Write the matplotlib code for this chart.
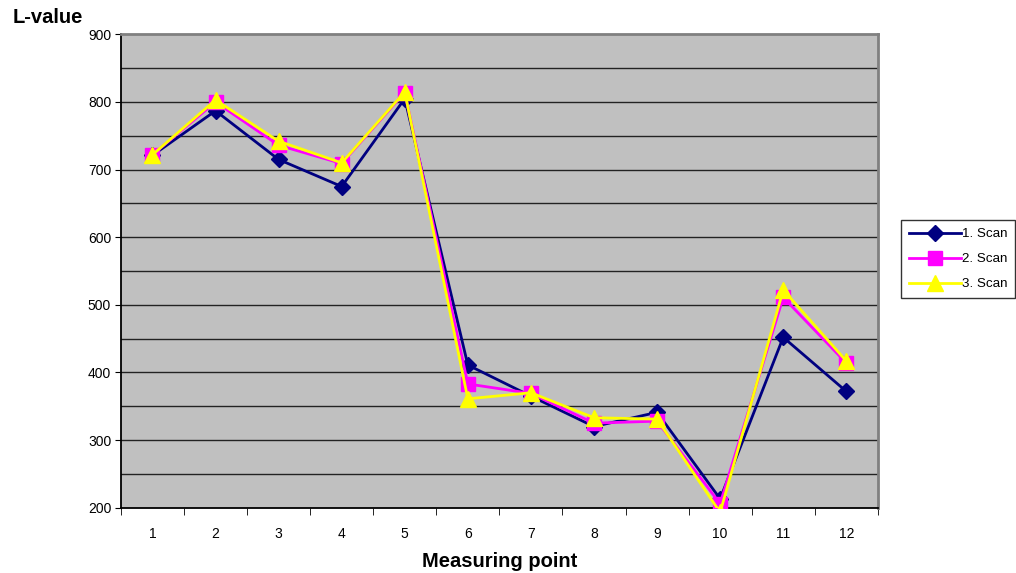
import matplotlib
matplotlib.use("Agg")
import matplotlib.pyplot as plt
from matplotlib.ticker import MultipleLocator

plt.rcParams['font.family'] = ['Liberation Sans', 'DejaVu Sans']

# data
points = list(range(1, 13))
scan1 = [721, 787, 715, 675, 805, 411, 365, 320, 341, 213, 452, 372]
scan2 = [722, 800, 736, 709, 814, 383, 369, 325, 328, 206, 511, 414]
scan3 = [722, 803, 742, 710, 815, 361, 370, 333, 331, 193, 522, 417]
labels = ["1. Scan", "2. Scan", "3. Scan"]

fig = plt.figure(figsize=(10.16, 5.73), dpi=100)
ax = fig.add_axes([0.119, 0.114, 0.745, 0.826])
ax.set_facecolor("#C0C0C0")

# grid every 50
for v in range(250, 900, 50):
    ax.axhline(v, color="#222222", lw=1.0, zorder=1)

ax.plot(points, scan1, color="#000080", lw=2, marker="D", ms=8,
        label=labels[0], zorder=3)
ax.plot(points, scan2, color="#FF00FF", lw=2, marker="s", ms=10,
        label=labels[1], zorder=4)
ax.plot(points, scan3, color="#FFFF00", lw=2, marker="^", ms=11,
        label=labels[2], zorder=5)

ax.set_xlim(0.5, 12.5)
ax.set_ylim(200, 900)
ax.set_xticks(points)
ax.xaxis.set_minor_locator(MultipleLocator(1, offset=0.5))
ax.tick_params(axis="x", which="major", length=0, pad=14, labelsize=10)
ax.tick_params(axis="x", which="minor", length=5, direction="out", color="black")
ax.yaxis.set_major_locator(MultipleLocator(100))
ax.tick_params(axis="y", which="major", length=4, direction="out", labelsize=10, pad=3)

for s in ["left", "bottom"]:
    ax.spines[s].set_color("black")
    ax.spines[s].set_linewidth(1.3)
for s in ["top", "right"]:
    ax.spines[s].set_color("#808080")
    ax.spines[s].set_linewidth(2)

fig.text(0.012, 0.97, "L-value", fontsize=14.5, fontweight="bold", va="center")
ax.set_xlabel("Measuring point", fontsize=14.5, fontweight="bold", labelpad=8)

leg = ax.legend(loc="center left", bbox_to_anchor=(1.03, 0.525), frameon=True,
                fancybox=False, edgecolor="black", fontsize=9.6,
                handlelength=3.9, borderpad=0.6, labelspacing=0.95,
                handletextpad=0.1, borderaxespad=0)
leg.get_frame().set_linewidth(1.0)

fig.savefig("out.png", dpi=100)
